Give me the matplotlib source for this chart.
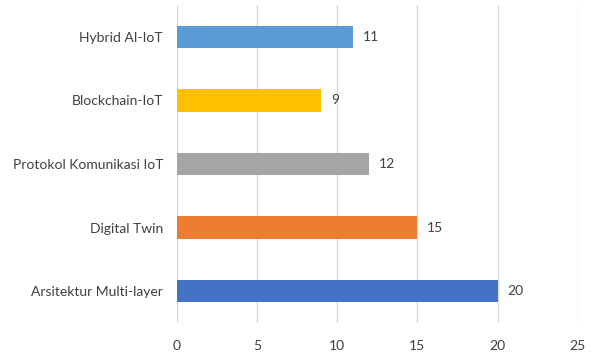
import matplotlib
matplotlib.use('Agg')
import matplotlib.pyplot as plt

categories = ['Arsitektur Multi-layer', 'Digital Twin', 'Protokol Komunikasi IoT',
              'Blockchain-IoT', 'Hybrid AI-IoT']
values = [20, 15, 12, 9, 11]
colors = ['#4472C4', '#ED7D31', '#A5A5A5', '#FFC000', '#5B9BD5']
xticks = [0, 5, 10, 15, 20, 25]

plt.rcParams['font.family'] = ['Lato', 'DejaVu Sans']

fig = plt.figure(figsize=(5.92, 3.56), dpi=100)
ax = fig.add_axes([0.299, 0.0927, 0.677, 0.893])

ypos = range(len(categories))
ax.barh(ypos, values, height=0.35, color=colors, zorder=3)
for y, v in zip(ypos, values):
    ax.text(v + 0.6, y, str(v), va='center', ha='left', fontsize=10, color='#404040')

ax.set_xlim(0, 25)
ax.set_ylim(-0.5, 4.5)
ax.set_xticks(xticks)
ax.set_yticks(list(ypos))
ax.set_yticklabels(categories)
ax.grid(axis='x', color='#D9D9D9', linewidth=1, zorder=0)
for s in ax.spines.values():
    s.set_visible(False)
ax.tick_params(length=0, labelsize=10, colors='#404040', pad=12)
ax.tick_params(axis='y', pad=10)

fig.savefig('out.png', dpi=100)
